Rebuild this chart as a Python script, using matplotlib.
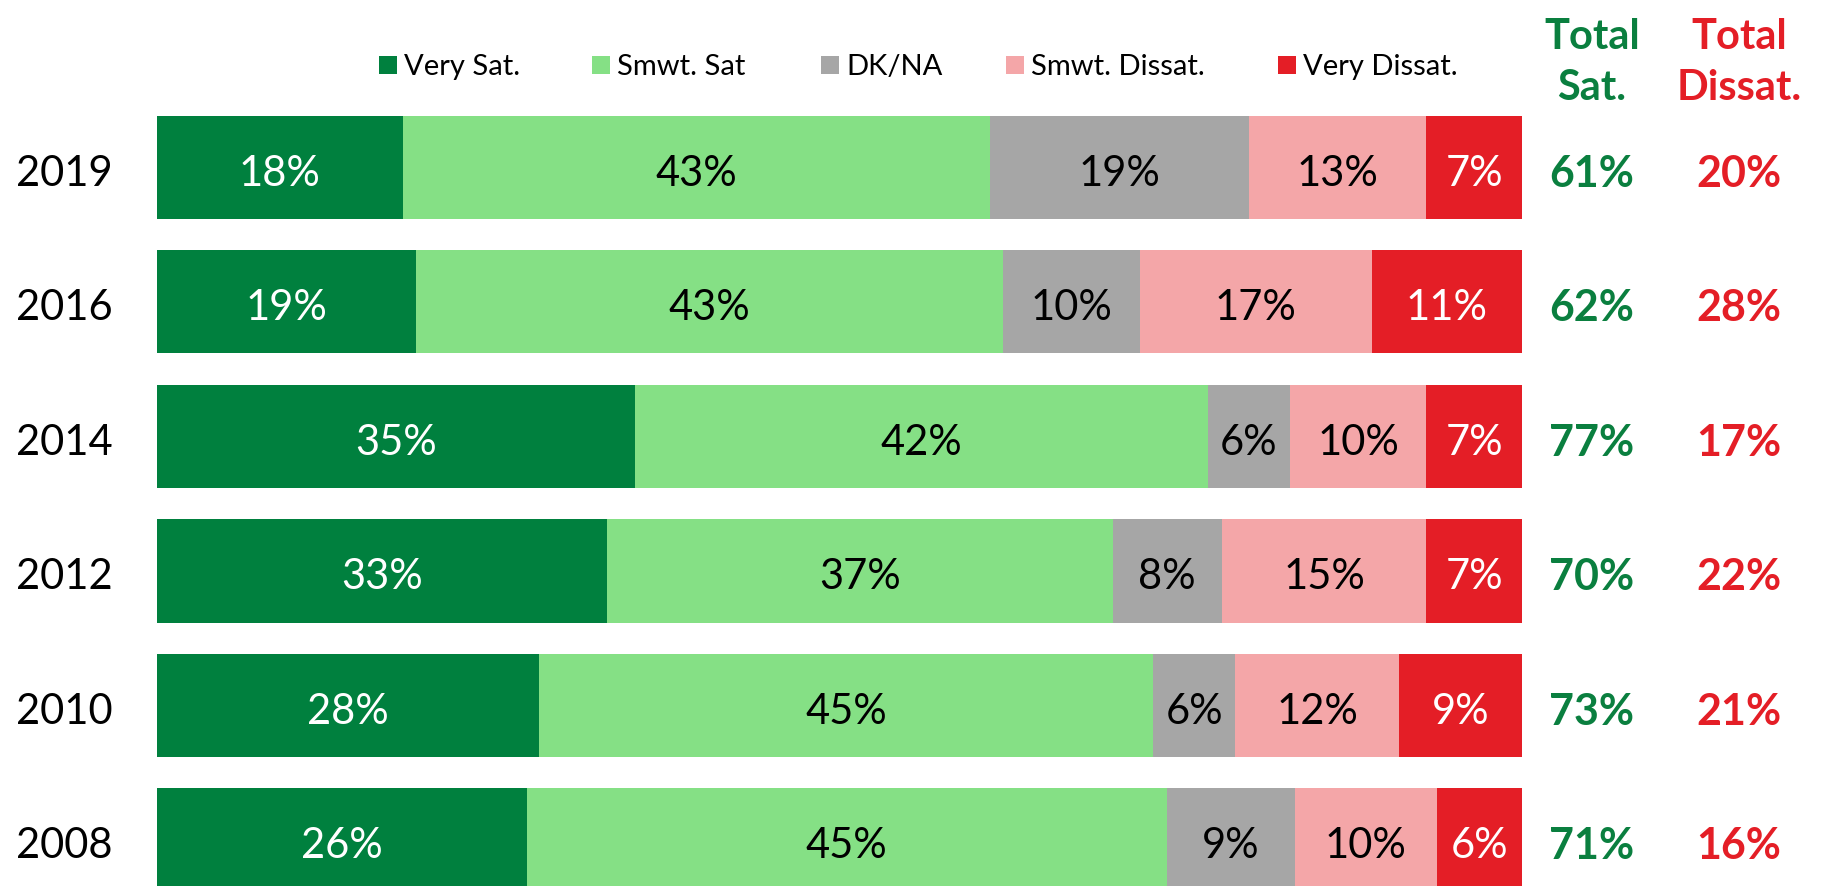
import matplotlib.pyplot as plt
from matplotlib.patches import Rectangle

plt.rcParams['font.family'] = ['Lato', 'DejaVu Sans']

# Data
years = ["2019", "2016", "2014", "2012", "2010", "2008"]
categories = ["Very Sat.", "Smwt. Sat", "DK/NA", "Smwt. Dissat.", "Very Dissat."]
very_sat = [18, 19, 35, 33, 28, 26]
smwt_sat = [43, 43, 42, 37, 45, 45]
dk_na = [19, 10, 6, 8, 6, 9]
smwt_dissat = [13, 17, 10, 15, 12, 10]
very_dissat = [7, 11, 7, 7, 9, 6]

series = [very_sat, smwt_sat, dk_na, smwt_dissat, very_dissat]
colors = ["#00803E", "#85E085", "#A6A6A6", "#F4A6A8", "#E41E26"]
text_colors = ["white", "black", "black", "black", "white"]
total_sat = [a + b for a, b in zip(very_sat, smwt_sat)]
total_dissat = [a + b for a, b in zip(smwt_dissat, very_dissat)]

green = "#0A7F3F"
red = "#E41E26"
W, H = 1826, 886
dy = 0.045  # nudge text down so glyphs sit centred on the bars

fig = plt.figure(figsize=(W / 100, H / 100), dpi=100)
ax = fig.add_axes([157 / W, 0, 1365 / W, 1])
ax.set_xlim(0, 100)
ax.set_ylim(5.342, -1.245)
ax.axis("off")

# 100% stacked bars
for i, year in enumerate(years):
    row = [s[i] for s in series]
    total = sum(row)
    left = 0
    for j, v in enumerate(row):
        w = v / total * 100
        ax.barh(i, w, left=left, height=0.766, color=colors[j], linewidth=0)
        ax.text(left + w / 2, i + dy, f"{v}%", ha="center", va="center",
                fontsize=30, color=text_colors[j])
        left += w
    ax.text(-6.8, i + dy, year, ha="center", va="center", fontsize=30, color="black",
            clip_on=False)
    ax.text(105.1, i + dy, f"{total_sat[i]}%", ha="center", va="center", fontsize=31,
            fontweight="bold", color=green, clip_on=False)
    ax.text(115.9, i + dy, f"{total_dissat[i]}%", ha="center", va="center", fontsize=31,
            fontweight="bold", color=red, clip_on=False)

# Headers
fig.text(1592 / W, 1 - 37 / H, "Total", ha="center", va="center", fontsize=30,
         fontweight="bold", color=green)
fig.text(1592 / W, 1 - 88 / H, "Sat.", ha="center", va="center", fontsize=30,
         fontweight="bold", color=green)
fig.text(1739 / W, 1 - 37 / H, "Total", ha="center", va="center", fontsize=30,
         fontweight="bold", color=red)
fig.text(1739 / W, 1 - 88 / H, "Dissat.", ha="center", va="center", fontsize=30,
         fontweight="bold", color=red)

# Legend
sq_x = [379, 592, 821, 1006, 1278]
for x, name, c in zip(sq_x, categories, colors):
    fig.patches.append(Rectangle((x / W, 1 - 74 / H), 18 / W, 18 / H,
                                 transform=fig.transFigure, color=c, linewidth=0))
    fig.text((x + 25) / W, 1 - 67 / H, name, ha="left", va="center",
             fontsize=21, color="black")

fig.savefig("out.png", dpi=100)
